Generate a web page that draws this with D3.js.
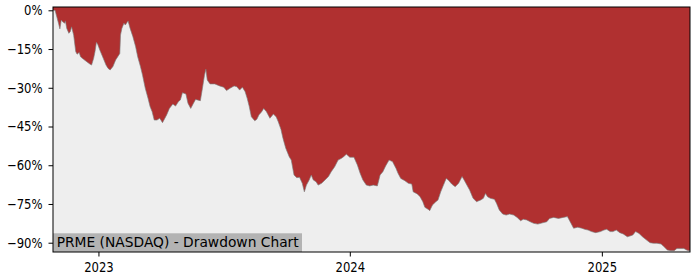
<!DOCTYPE html>
<html>
<head>
<meta charset="utf-8">
<script src="https://cdn.jsdelivr.net/npm/d3@7"></script>
<style>
  body { margin: 0; background: #fff; }
  text { font-family: "DejaVu Sans", sans-serif; }
</style>
</head>
<body>
<script>
var title = "PRME (NASDAQ) - Drawdown Chart";

// drawdown in percent
var dates = [
  "2022-10-27","2022-10-30","2022-11-04","2022-11-06","2022-11-08","2022-11-10","2022-11-13","2022-11-14",
  "2022-11-16","2022-11-19","2022-11-21","2022-11-23","2022-11-26","2022-11-29","2022-12-01","2022-12-04",
  "2022-12-06","2022-12-10","2022-12-15","2022-12-20","2022-12-22","2022-12-25","2022-12-27","2022-12-29",
  "2022-12-31","2023-01-03","2023-01-08","2023-01-12","2023-01-15","2023-01-18","2023-01-22","2023-01-26",
  "2023-01-29","2023-02-01","2023-02-02","2023-02-04","2023-02-07","2023-02-09","2023-02-13","2023-02-16",
  "2023-02-20","2023-02-24","2023-02-27","2023-03-03","2023-03-06","2023-03-10","2023-03-14","2023-03-17",
  "2023-03-20","2023-03-23","2023-03-27","2023-03-31","2023-04-04","2023-04-10","2023-04-14","2023-04-19",
  "2023-04-23","2023-04-27","2023-04-30","2023-05-03","2023-05-08","2023-05-11","2023-05-15","2023-05-19",
  "2023-05-22","2023-05-29","2023-06-01","2023-06-04","2023-06-06","2023-06-08","2023-06-12","2023-06-19",
  "2023-06-26","2023-07-02","2023-07-06","2023-07-11","2023-07-17","2023-07-21","2023-07-25","2023-07-29",
  "2023-08-02","2023-08-05","2023-08-08","2023-08-11","2023-08-16","2023-08-19","2023-08-22","2023-08-26",
  "2023-08-29","2023-09-02","2023-09-07","2023-09-12","2023-09-16","2023-09-19","2023-09-23","2023-09-26",
  "2023-09-30","2023-10-05","2023-10-08","2023-10-12","2023-10-16","2023-10-20","2023-10-24","2023-10-27",
  "2023-10-30","2023-11-03","2023-11-06","2023-11-09","2023-11-13","2023-11-16","2023-11-21","2023-11-26",
  "2023-12-01","2023-12-05","2023-12-10","2023-12-15","2023-12-20","2023-12-23","2023-12-27","2024-01-01",
  "2024-01-07","2024-01-12","2024-01-16","2024-01-20","2024-01-25","2024-01-30","2024-02-04","2024-02-10",
  "2024-02-14","2024-02-18","2024-02-22","2024-02-27","2024-03-03","2024-03-08","2024-03-11","2024-03-15",
  "2024-03-21","2024-03-26","2024-03-31","2024-04-02","2024-04-08","2024-04-12","2024-04-16","2024-04-19",
  "2024-04-24","2024-04-26","2024-04-30","2024-05-05","2024-05-08","2024-05-12","2024-05-16","2024-05-20",
  "2024-05-23","2024-05-28","2024-06-02","2024-06-07","2024-06-12","2024-06-15","2024-06-19","2024-06-23",
  "2024-06-28","2024-07-03","2024-07-09","2024-07-13","2024-07-16","2024-07-19","2024-07-23","2024-07-29",
  "2024-08-01","2024-08-05","2024-08-10","2024-08-15","2024-08-20","2024-08-26","2024-08-31","2024-09-05",
  "2024-09-09","2024-09-14","2024-09-19","2024-09-24","2024-09-30","2024-10-07","2024-10-13","2024-10-17",
  "2024-10-23","2024-10-30","2024-11-06","2024-11-12","2024-11-16","2024-11-21","2024-11-27","2024-12-03",
  "2024-12-07","2024-12-12","2024-12-17","2024-12-23","2024-12-30","2025-01-04","2025-01-08","2025-01-13",
  "2025-01-17","2025-01-22","2025-01-27","2025-02-01","2025-02-07","2025-02-12","2025-02-15","2025-02-19",
  "2025-02-24","2025-03-01","2025-03-07","2025-03-12","2025-03-17","2025-03-22","2025-03-28","2025-04-01",
  "2025-04-06","2025-04-11","2025-04-16","2025-04-20","2025-04-26","2025-04-30","2025-05-04","2025-05-07",
  "2025-05-09"
];
var drawdown = [
  0, 0, -5.0, -7.2, -3.8, -4.4, -5.0, -4.1,
  -7.0, -8.9, -8.3, -6.4, -9.6, -16.0, -17.0, -16.3,
  -18.0, -18.9, -19.9, -20.9, -21.2, -18.6, -16.0, -12.4,
  -13.2, -15.4, -18.6, -21.2, -22.5, -23.1, -21.8, -19.2,
  -18.0, -16.7, -9.6, -7.0, -5.0, -5.7, -4.1, -7.0,
  -10.2, -14.1, -18.0, -21.8, -25.1, -30.2, -34.1, -37.3,
  -39.3, -42.5, -42.5, -41.8, -43.5, -40.5, -38.0, -36.3,
  -37.1, -35.4, -34.7, -31.9, -32.4, -36.0, -38.0, -36.0,
  -34.5, -35.0, -30.2, -25.1, -22.8, -27.0, -28.5, -28.5,
  -29.3, -29.8, -31.1, -30.2, -29.3, -29.6, -30.9, -29.8,
  -31.5, -34.1, -37.3, -41.2, -42.8, -42.2, -40.5, -39.3,
  -38.0, -39.3, -41.8, -40.2, -41.2, -43.1, -46.1, -49.6,
  -53.4, -56.7, -58.0, -63.8, -64.8, -64.7, -67.0, -70.3,
  -67.7, -65.7, -63.8, -65.7, -66.4, -67.7, -67.0, -65.7,
  -64.4, -62.5, -60.6, -58.0, -57.3, -56.7, -55.7, -56.9,
  -56.9, -59.9, -63.1, -65.7, -67.7, -68.0, -67.7, -68.0,
  -63.8, -62.5, -60.3, -58.0, -58.6, -61.2, -63.1, -65.1,
  -66.0, -67.0, -67.3, -70.3, -71.1, -72.2, -74.1, -76.3,
  -77.1, -77.6, -75.4, -74.1, -73.5, -70.3, -67.7, -65.1,
  -65.7, -67.3, -68.3, -67.0, -64.4, -65.7, -67.7, -69.6,
  -72.8, -74.1, -73.5, -72.8, -70.9, -72.2, -72.8, -73.2,
  -74.7, -77.3, -78.9, -79.3, -78.9, -79.3, -80.2, -81.5,
  -80.9, -81.2, -81.9, -82.5, -82.8, -82.3, -81.9, -80.6,
  -80.2, -80.6, -80.2, -79.9, -81.9, -84.4, -84.0, -84.4,
  -84.8, -85.1, -85.7, -86.1, -85.7, -85.1, -84.8, -85.7,
  -85.7, -85.1, -86.1, -86.6, -87.7, -87.3, -87.0, -85.7,
  -86.4, -87.7, -89.0, -90.0, -90.2, -90.2, -90.5, -91.5,
  -92.8, -93.1, -93.1, -92.2, -92.2, -92.2, -92.8, -93.1,
  -93.0
];

var yTicks = [0, -15, -30, -45, -60, -75, -90];
var xTickYears = ["2023", "2024", "2025"];
var yRange = [-93.6, 1.28];

var margin = {top: 7, right: 10, bottom: 28, left: 53},
    width = 700 - margin.left - margin.right,
    height = 280 - margin.top - margin.bottom;

var parseDate = d3.timeParse("%Y-%m-%d");
var data = dates.map(function(d, i) { return {date: parseDate(d), value: drawdown[i]}; });

var x = d3.scaleTime().domain(d3.extent(data, function(d) { return d.date; })).range([0, width]);
var y = d3.scaleLinear().domain(yRange).range([height, 0]);

var svg = d3.select("body").append("svg")
    .attr("width", 700)
    .attr("height", 280)
  .append("g")
    .attr("transform", "translate(" + margin.left + "," + margin.top + ")");

// plot background
svg.append("rect")
    .attr("width", width)
    .attr("height", height)
    .attr("fill", "#eeeeee");

// drawdown fill (from top of plot down to the curve)
svg.append("path")
    .datum(data)
    .attr("fill", "#b03030")
    .attr("d", d3.area()
      .x(function(d) { return x(d.date); })
      .y0(0)
      .y1(function(d) { return y(d.value); }));

svg.append("path")
    .datum(data)
    .attr("fill", "none")
    .attr("stroke", "#7a7a7a")
    .attr("stroke-width", 0.8)
    .attr("stroke-opacity", 0.8)
    .attr("d", d3.line()
      .x(function(d) { return x(d.date); })
      .y(function(d) { return y(d.value); }));

// caption box
var cap = svg.append("g").attr("transform", "translate(0," + (height - 18.7) + ")");
cap.append("rect")
    .attr("width", 249)
    .attr("height", 18.7)
    .attr("fill", "#b3b3b3");
cap.append("text")
    .attr("x", 3.7)
    .attr("y", 14)
    .attr("font-size", "13.7px")
    .attr("fill", "#000")
    .attr("textLength", 242)
    .attr("lengthAdjust", "spacingAndGlyphs")
    .text(title);

// y-axis
var fmt = function(d) { return (d < 0 ? "\u2212" : "") + Math.abs(d) + "%"; };
var yAxis = svg.append("g")
    .call(d3.axisLeft(y).tickValues(yTicks).tickSize(4.5).tickPadding(6).tickFormat(fmt));
yAxis.select(".domain").remove();
yAxis.selectAll("text")
    .attr("x", 0)
    .attr("transform", "translate(-10.5,0) scale(0.85,1)")
    .attr("font-size", "13.7px")
    .attr("font-family", "DejaVu Sans")
    .attr("fill", "#000");

// x-axis
var xTicks = xTickYears.map(function(s) { return parseDate(s + "-01-01"); });
var xAxis = svg.append("g")
    .attr("transform", "translate(0," + height + ")")
    .call(d3.axisBottom(x).tickValues(xTicks).tickSize(4.5).tickPadding(6.2).tickFormat(d3.timeFormat("%Y")));
xAxis.select(".domain").remove();
xAxis.selectAll("text")
    .attr("transform", "scale(0.85,1)")
    .attr("font-size", "13.7px")
    .attr("font-family", "DejaVu Sans")
    .attr("fill", "#000");

// frame
svg.append("rect")
    .attr("x", 0)
    .attr("y", 0)
    .attr("width", width)
    .attr("height", height)
    .attr("fill", "none")
    .attr("stroke", "#000")
    .attr("stroke-width", 1);
</script>
</body>
</html>
